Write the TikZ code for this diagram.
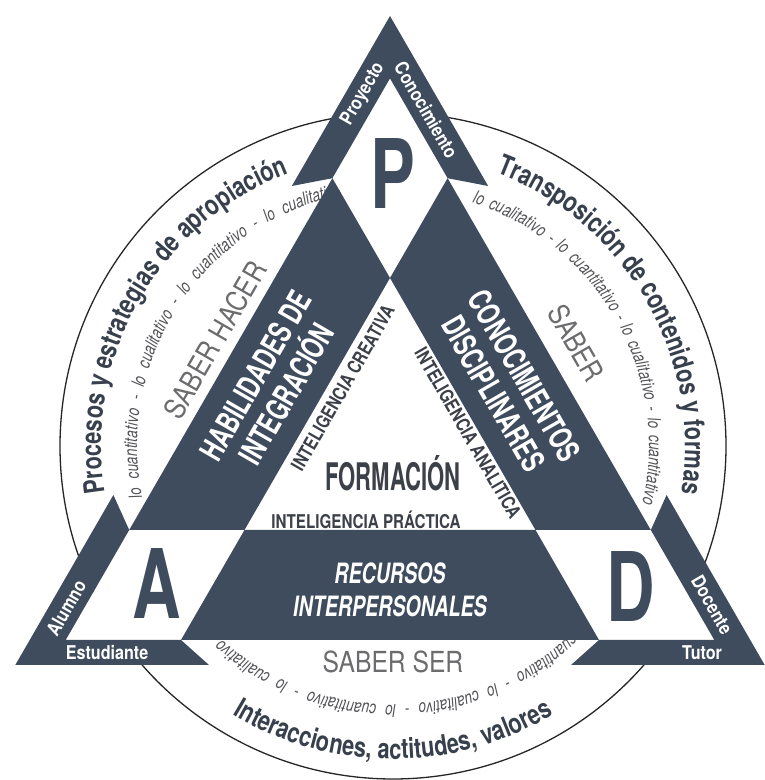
\documentclass[tikz,border=0pt]{standalone}
\usepackage{fontspec}
\newfontfamily\fA[FakeStretch=0.85]{TeX Gyre Heros}
\newfontfamily\fB[FakeStretch=0.70]{TeX Gyre Heros}
\newfontfamily\fC[FakeStretch=0.58]{TeX Gyre Heros}
\newfontfamily\fD[FakeStretch=0.80]{TeX Gyre Heros}
\newfontfamily\fE[FakeStretch=0.78]{TeX Gyre Heros}
\newfontfamily\fF[FakeStretch=0.76]{TeX Gyre Heros}
\usetikzlibrary{calc,decorations.text}
\definecolor{dk}{RGB}{62,76,94}
\definecolor{arctx}{RGB}{56,64,78}
\definecolor{gr}{RGB}{108,108,110}
\definecolor{grit}{RGB}{84,84,88}
\definecolor{wtx}{RGB}{60,64,72}
\tikzset{
  band/.style={fill=dk},
  wfill/.style={fill=white},
  lab/.style={text=white, inner sep=0pt, font=\fA\bfseries\fontsize{19}{19}\selectfont},
  bigw/.style={text=white, inner sep=0pt, align=center, font=\fB\bfseries\fontsize{32}{36}\selectfont},
  letter/.style={text=dk, inner sep=0pt, font=\fB\bfseries\fontsize{96}{96}\selectfont},
  intel/.style={text=wtx, inner sep=0pt, font=\fD\bfseries\fontsize{19}{19}\selectfont},
  saber/.style={text=gr, inner sep=0pt, font=\fA\fontsize{29}{29}\selectfont},
  outerarc/.style={decorate, decoration={text along path, text align=center, text color=arctx, text={|\fE\bfseries\fontsize{28}{28}\selectfont|#1}}},
  innerarc/.style={decorate, decoration={text along path, text align={fit to path stretching spaces}, text color=grit, text={|\fF\itshape\fontsize{18}{18}\selectfont|#1}}},
}
\begin{document}
\begin{tikzpicture}[x=1pt,y=1pt]
\useasboundingbox (0,0) rectangle (765,780);
\fill[white] (0,0) rectangle (765,780);

% key points
\coordinate (C) at (393,334);
\coordinate (T) at (390,764);
\coordinate (BL) at (15.3,115);
\coordinate (BR) at (764.7,115);
\coordinate (IA) at (390,701.6);
\coordinate (NL) at (332.4,601.8);
\coordinate (NR) at (447.6,601.8);
\coordinate (OL) at (291.85,594);
\coordinate (OR) at (488.15,594);
\coordinate (WA) at (390,502);
\coordinate (WL) at (244.5,250);
\coordinate (WR) at (535.5,250);
\coordinate (EL1) at (129.2,250);
\coordinate (ER1) at (650.8,250);
\coordinate (RL) at (181,140);
\coordinate (RR) at (599,140);
\coordinate (EL2) at (65.7,140);
\coordinate (ER2) at (714.3,140);
\coordinate (AT) at (113.4,285);
\coordinate (DT) at (666.6,285);
\coordinate (ET) at (209,115);
\coordinate (TT) at (571,115);

% circle
\draw[line width=1.3pt, black!85] (C) circle[radius=333];

% arc texts
\path[outerarc={Procesos y estrategias de apropiación}] ($(C)+(200:292)$) arc[start angle=200,end angle=100,radius=292];
\path[outerarc={Transposición de contenidos y formas}] ($(C)+(80:292)$) arc[start angle=80,end angle=-20,radius=292];
\path[outerarc={Interacciones, actitudes, valores}] ($(C)+(225:313)$) arc[start angle=225,end angle=315,radius=313];

\path[innerarc={lo cuantitativo - lo cualitativo - lo cuantitativo - lo cualitativo}] ($(C)+(191.6:256)$) arc[start angle=191.6,end angle=101.5,radius=256];
\path[innerarc={lo cualitativo - lo cuantitativo - lo cualitativo - lo cuantitativo}] ($(C)+(72:256)$) arc[start angle=72,end angle=-13,radius=256];
\path[innerarc={cuantitativo - lo cualitativo - lo cuantitativo - lo cualitativo}] ($(C)+(-46.5:259)$) arc[start angle=-46.5,end angle=-131.5,radius=259];

% white interiors
\fill[wfill] (IA) -- (NL) -- (WA) -- (NR) -- cycle;
\fill[wfill] (EL1) -- (WL) -- (RL) -- (EL2) -- cycle;
\fill[wfill] (WR) -- (ER1) -- (ER2) -- (RR) -- cycle;
\fill[wfill] (WA) -- (WL) -- (WR) -- cycle;

% dark shapes
\fill[band] (T) -- (OL) -- (NL) -- (IA) -- (NR) -- (OR) -- cycle;
\fill[band] (NL) -- (WA) -- (WL) -- (EL1) -- cycle;
\fill[band] (NR) -- (WA) -- (WR) -- (ER1) -- cycle;
\fill[band] (WL) -- (WR) -- (RR) -- (RL) -- cycle;
\fill[band] (AT) -- (BL) -- (ET) -- (RL) -- (EL2) -- (EL1) -- cycle;
\fill[band] (DT) -- (BR) -- (TT) -- (RR) -- (ER2) -- (ER1) -- cycle;

% letters
\node[letter] (pP) at (393,606) {P};
\node[letter] (pA) at (157,196) {A};
\node[letter] (pD) at (631,193) {D};

% band labels
\node[lab, rotate=60] (lproy) at (363,686) {Proyecto};
\node[lab, rotate=-60] (lcon) at (426.3,670) {Conocimiento};
\node[lab, rotate=60] (lalu) at (66.2,172) {Alumno};
\node[lab, rotate=-60] (ldoc) at (712.1,175) {Docente};
\node[lab] (lest) at (107,127.5) {Estudiante};
\node[lab] (ltut) at (702,127.5) {Tutor};

% inner band texts
\node[bigw, rotate=60] (hab) at (271,395) {HABILIDADES DE\\INTEGRACIÓN};
\node[bigw, rotate=-60] (con) at (509,395) {CONOCIMIENTOS\\DISCIPLINARES};
\node[bigw, font=\fB\bfseries\itshape\fontsize{28}{33}\selectfont] (rec) at (390,190) {RECURSOS\\INTERPERSONALES};

% formation triangle texts
\node[text=wtx, inner sep=0pt, font=\fC\bfseries\fontsize{38}{38}\selectfont] (form) at (393,307) {FORMACIÓN};
\node[intel] (ipra) at (366,260) {INTELIGENCIA PRÁCTICA};
\node[intel, rotate=60] (icre) at (342.7,392) {INTELIGENCIA CREATIVA};
\node[intel, rotate=-60] (iana) at (468,347) {INTELIGENCIA ANALITICA};

% saber texts
\node[saber, rotate=60] (sh) at (215,440) {SABER HACER};
\node[saber, rotate=-60] (sb) at (576,437) {SABER};
\node[saber] (ss) at (393,118) {SABER SER};
\end{tikzpicture}
\end{document}
